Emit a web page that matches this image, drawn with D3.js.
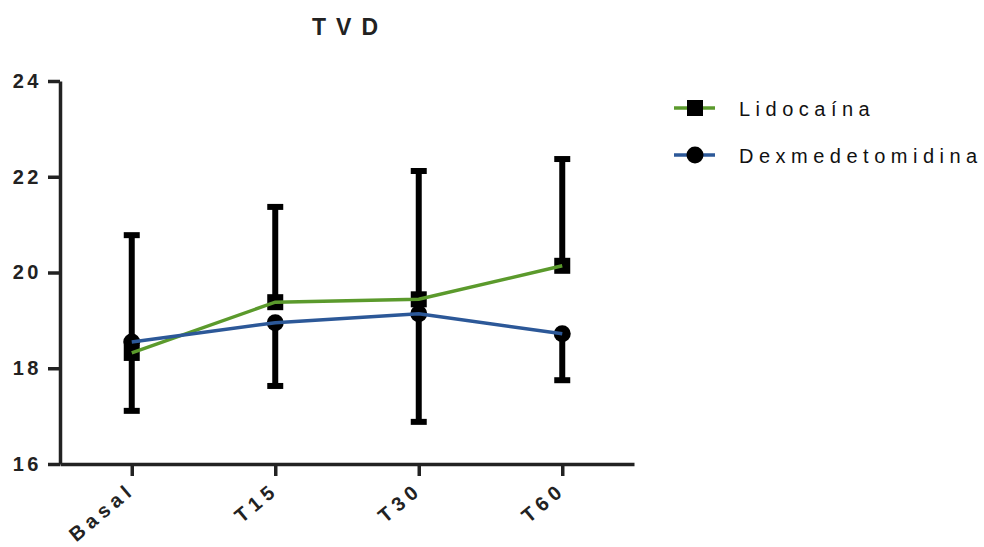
<!DOCTYPE html>
<html lang="es">
<head>
<meta charset="UTF-8" />
<script src="https://d3js.org/d3.v7.min.js"></script>
<style>
  body { margin: 0; background: #fff; }
  svg { font-family: "Liberation Sans", Arial, sans-serif; }
</style>
<title>TVD</title>
</head>
<body>
<svg id="chart"></svg>
<script>
  // data
  const categories = ["Basal", "T15", "T30", "T60"];
  const lidoMean = [18.32, 19.38, 19.44, 20.14];
  const lidoSD = [2.46, 1.99, 2.68, 2.23];      // drawn upwards
  const dexMean = [18.55, 18.95, 19.14, 18.72];
  const dexSD = [1.44, 1.32, 2.26, 0.97];       // drawn downwards
  const yTicks = [16, 18, 20, 22, 24];

  const W = 984, H = 547;
  const green = "#5b9a2c", blue = "#2c5898", ink = "#222";

  const svg = d3.select("#chart").attr("width", W).attr("height", H);

  const x = d3.scalePoint().domain(categories).range([60, 634]).padding(0.5);
  const y = d3.scaleLinear().domain([16, 24]).range([464, 81]);

  // title
  svg.append("text")
    .attr("x", 350).attr("y", 35)
    .attr("text-anchor", "middle")
    .style("font-size", "23px").style("font-weight", "bold")
    .style("letter-spacing", "10px").attr("fill", ink)
    .text("TVD");

  // y axis
  const gy = svg.append("g")
    .attr("transform", "translate(60,0)")
    .call(d3.axisLeft(y).tickValues(yTicks).tickSize(12).tickSizeOuter(0).tickPadding(6));
  gy.select(".domain").attr("stroke", ink).attr("stroke-width", 3.5);
  gy.selectAll(".tick line").attr("stroke", ink).attr("stroke-width", 3.5);
  gy.selectAll(".tick text")
    .attr("fill", ink)
    .style("font-size", "20px").style("font-weight", "bold").style("letter-spacing", "3.5px");

  // x axis
  const gx = svg.append("g")
    .attr("transform", "translate(0,464)")
    .call(d3.axisBottom(x).tickSize(12).tickSizeOuter(0));
  gx.select(".domain").attr("stroke", ink).attr("stroke-width", 3.5);
  gx.selectAll(".tick line").attr("stroke", ink).attr("stroke-width", 3.5);
  gx.selectAll(".tick text")
    .attr("fill", ink)
    .attr("text-anchor", "end")
    .attr("y", 0).attr("dy", 0)
    .attr("transform", "translate(4,28) rotate(-40)")
    .style("font-size", "20px").style("font-weight", "bold").style("letter-spacing", "5px");

  // error bars
  const errs = [];
  categories.forEach((c, i) => {
    errs.push({ c: c, from: lidoMean[i], to: lidoMean[i] + lidoSD[i] });
    errs.push({ c: c, from: dexMean[i], to: dexMean[i] - dexSD[i] });
  });
  const eb = svg.append("g").attr("stroke", "#000");
  eb.selectAll(".bar").data(errs).enter().append("line")
    .attr("x1", d => x(d.c)).attr("x2", d => x(d.c))
    .attr("y1", d => y(d.from)).attr("y2", d => y(d.to))
    .attr("stroke-width", 6);
  eb.selectAll(".cap").data(errs).enter().append("line")
    .attr("x1", d => x(d.c) - 8).attr("x2", d => x(d.c) + 8)
    .attr("y1", d => y(d.to)).attr("y2", d => y(d.to))
    .attr("stroke-width", 6);

  // markers
  svg.append("g").selectAll("rect").data(lidoMean).enter().append("rect")
    .attr("x", (d, i) => x(categories[i]) - 8)
    .attr("y", d => y(d) - 8)
    .attr("width", 16).attr("height", 16)
    .attr("fill", "#000");
  svg.append("g").selectAll("circle").data(dexMean).enter().append("circle")
    .attr("cx", (d, i) => x(categories[i]))
    .attr("cy", d => y(d))
    .attr("r", 8.5)
    .attr("fill", "#000");

  // lines
  const line = d3.line().x((d, i) => x(categories[i])).y(d => y(d));
  svg.append("path").datum(lidoMean).attr("d", line)
    .attr("fill", "none").attr("stroke", green).attr("stroke-width", 3.5);
  svg.append("path").datum(dexMean).attr("d", line)
    .attr("fill", "none").attr("stroke", blue).attr("stroke-width", 3.5);

  // legend
  const legend = [
    { name: "Lidocaína", color: green, shape: "square", y: 108 },
    { name: "Dexmedetomidina", color: blue, shape: "circle", y: 155 }
  ];
  const lg = svg.append("g");
  legend.forEach(l => {
    lg.append("line")
      .attr("x1", 674).attr("x2", 715).attr("y1", l.y).attr("y2", l.y)
      .attr("stroke", l.color).attr("stroke-width", 3.5);
    if (l.shape === "square") {
      lg.append("rect").attr("x", 687).attr("y", l.y - 8)
        .attr("width", 16).attr("height", 16).attr("fill", "#000");
    } else {
      lg.append("circle").attr("cx", 695).attr("cy", l.y).attr("r", 8.5).attr("fill", "#000");
    }
    lg.append("text")
      .attr("x", 739).attr("y", l.y + 8)
      .attr("fill", "#111")
      .style("font-size", "20px").style("letter-spacing", "5.5px")
      .text(l.name);
  });
</script>
</body>
</html>
